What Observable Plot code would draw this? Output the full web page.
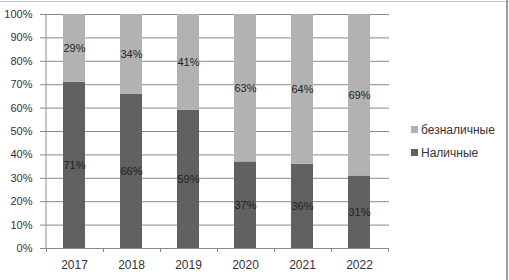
<!DOCTYPE html>
<html><head><meta charset="utf-8">
<script src="https://cdn.jsdelivr.net/npm/d3@7"></script>
<script src="https://cdn.jsdelivr.net/npm/@observablehq/plot@0.6"></script>
<style>
body{margin:0;background:#fff;}
#c{position:relative;width:509px;height:280px;}
</style></head>
<body><div id="c"></div>
<script>
const years = ["2017","2018","2019","2020","2021","2022"];
const cash = [71, 66, 59, 37, 36, 31];
const cashless = [29, 34, 41, 63, 64, 69];
const seriesNames = ["Наличные", "безналичные"];
const yTicks = [0,10,20,30,40,50,60,70,80,90,100];
const colors = ["#616161", "#b2b2b2"];

const data = [];
years.forEach((y, i) => {
  data.push({year: y, series: seriesNames[0], value: cash[i]});
  data.push({year: y, series: seriesNames[1], value: cashless[i]});
});

const font = "Liberation Sans, Arial, sans-serif";
const W = 509, H = 280;
const chart = Plot.plot({
  width: W, height: H,
  marginLeft: 43, marginRight: 120, marginTop: 14, marginBottom: 32,
  style: {fontFamily: font, fontSize: "11px", background: "#fff", color: "#333"},
  x: {domain: years, paddingInner: 0.62, paddingOuter: 0.31, label: null},
  y: {domain: [0, 100], label: null},
  color: {domain: seriesNames, range: colors},
  marks: [
    Plot.ruleY(yTicks, {stroke: "#8a8a8a", strokeWidth: 1}),
    Plot.barY(data, {x: "year", y: "value", fill: "series", order: seriesNames}),
    Plot.text(data, Plot.stackY({x: "year", y: "value", z: "series", order: seriesNames, text: d => d.value + "%", fill: "#222", fontSize: 11})),
    Plot.axisY(yTicks, {tickFormat: d => d + "%", tickSize: 3, tickPadding: 8, stroke: "#8a8a8a", fill: "#333", fontSize: 11}),
    Plot.axisX({tickSize: 0, tickPadding: 12, fill: "#333", fontSize: 12})
  ]
});
chart.style.position = "absolute";
chart.style.left = "0px"; chart.style.top = "0px";

const svg = d3.select(chart);
const xs = chart.scale("x");
const ys = chart.scale("y");
const step = xs.step;
const x0 = xs.apply(years[0]) - (step - xs.bandwidth) / 2;
const yb = ys.apply(0), yt = ys.apply(100);
// axis lines
svg.append("line").attr("x1", x0 + 0.5).attr("x2", x0 + 0.5).attr("y1", yt).attr("y2", yb).attr("stroke", "#8a8a8a");
svg.append("line").attr("x1", x0).attr("x2", x0 + step * years.length).attr("y1", yb + 0.5).attr("y2", yb + 0.5).attr("stroke", "#8a8a8a");
for (let i = 0; i <= years.length; i++) {
  const xx = Math.round(x0 + i * step) + 0.5;
  svg.append("line").attr("x1", xx).attr("x2", xx).attr("y1", yb).attr("y2", yb + 4).attr("stroke", "#8a8a8a");
}
// legend
const legendItems = [seriesNames[1], seriesNames[0]];
legendItems.forEach((name, i) => {
  const ly = 130 + i * 23;
  svg.append("rect").attr("x", 411).attr("y", ly - 4).attr("width", 7).attr("height", 7)
    .attr("fill", colors[seriesNames.indexOf(name)]);
  svg.append("text").attr("x", 421).attr("y", ly).attr("dy", "0.35em")
    .attr("text-anchor", "start")
    .attr("font-family", font).attr("font-size", 12).attr("fill", "#333").text(name);
});
// partial outer border (top and right only, as in the reference)
svg.append("line").attr("x1", 0).attr("x2", W).attr("y1", 1.5).attr("y2", 1.5).attr("stroke", "#c8c8c8");
svg.append("line").attr("x1", W - 2).attr("x2", W - 2).attr("y1", 0).attr("y2", H).attr("stroke", "#9a9a9a").attr("stroke-width", 2);
document.getElementById("c").appendChild(chart);
</script></body></html>
